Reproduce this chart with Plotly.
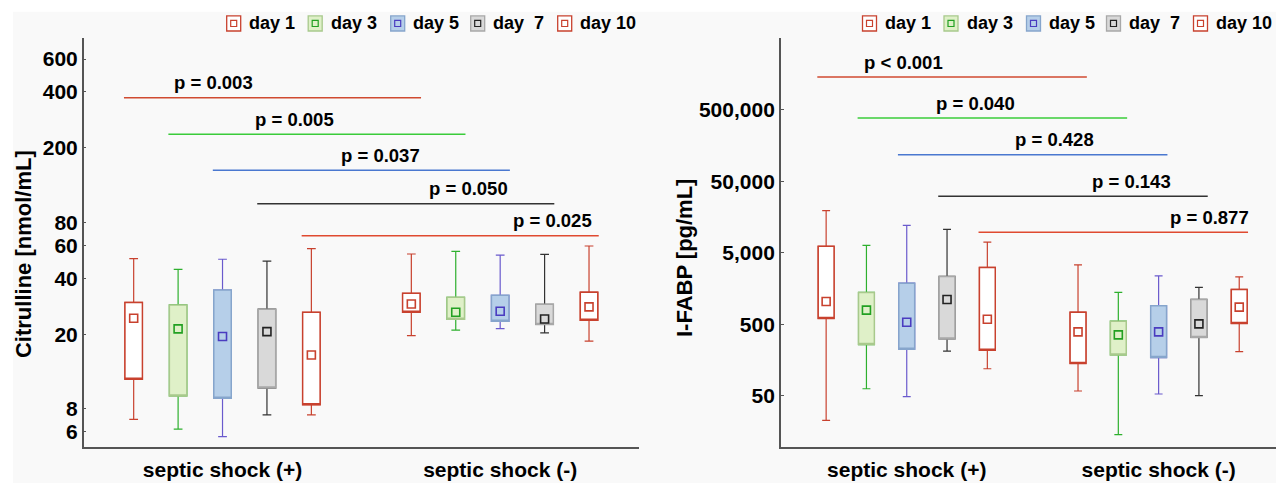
import math
import plotly.graph_objects as go

# ---------------- data ----------------
groups = ["septic shock (+)", "septic shock (-)"]
days = ["day 1", "day 3", "day 5", "day  7", "day 10"]

# Citrulline [nmol/mL]
cit_plus_upper = [51, 44.7, 50.6, 49.5, 57.7]
cit_plus_q3 = [29.7, 28.8, 34.6, 27.3, 26.3]
cit_plus_mean = [24.4, 21.4, 19.5, 20.7, 15.5]
cit_plus_q1 = [11.5, 9.35, 9.1, 10.3, 8.4]
cit_plus_lower = [7.0, 6.2, 5.66, 7.4, 7.4]

cit_minus_upper = [54, 55.8, 53.3, 53.8, 59.6]
cit_minus_q3 = [33.2, 31.6, 32.4, 29.0, 33.7]
cit_minus_mean = [29.1, 26.3, 26.6, 24.2, 28.1]
cit_minus_q1 = [26.3, 24.1, 23.5, 22.6, 23.8]
cit_minus_lower = [19.7, 21.1, 21.5, 20.4, 18.4]

cit_p_text = ["p = 0.003", "p = 0.005", "p = 0.037", "p = 0.050", "p = 0.025"]
cit_p_level = [372, 237, 152, 100.5, 67.7]
cit_ticks = [6, 8, 20, 40, 60, 80, 200, 400, 600]

# I-FABP [pg/mL]
fabp_plus_upper = [19450, 6370, 12130, 10670, 7080]
fabp_plus_q3 = [6170, 1400, 1888, 2344, 3133]
fabp_plus_mean = [1047, 791, 537, 1116, 591]
fabp_plus_q1 = [605, 261, 225, 313, 218]
fabp_plus_lower = [22.8, 63, 48.9, 211, 120]

fabp_minus_upper = [3400, 1400, 2390, 1644, 2312]
fabp_minus_q3 = [741, 555, 908, 1116, 1541]
fabp_minus_mean = [393, 357, 393, 508, 871]
fabp_minus_q1 = [142, 187, 172, 328, 515]
fabp_minus_lower = [58.6, 14.4, 53.2, 50.5, 208]

fabp_p_text = ["p < 0.001", "p = 0.040", "p = 0.428", "p = 0.143", "p = 0.877"]
fabp_p_level = [1435000, 383000, 118000, 30900, 9680]
fabp_ticks = [50, 500, 5000, 50000, 500000]
fabp_ticktext = ["50", "500", "5,000", "50,000", "500,000"]

# ---------------- style ----------------
W, H = 1276, 483
MT, MB = 38.3, 36.3
FONT = "Liberation Sans, Arial, Helvetica, sans-serif"
AXIS_COLOR = "#555555"

whisker_colors = ["#c8412e", "#2eb02e", "#6a5acd", "#333333", "#c8412e"]
outline_colors = ["#c8412e", "#a8c98c", "#86a5cc", "#a8a8a8", "#c8412e"]
fill_colors = ["#ffffff", "#dff0c8", "#b6cfe9", "#d9d9d9", "#ffffff"]
mean_colors = ["#c8412e", "#22a022", "#4a3cc0", "#222222", "#c8412e"]
p_colors = ["#d04a30", "#3acc3a", "#4a78d0", "#333333", "#e04a30"]

DAY_STEP = 0.16
BOX_W = 0.063


def px_x(px):
    return px / W


def px_y(py):
    return (H - MB - py) / (H - MT - MB)


def day_offset(i):
    return (i - (len(days) - 1) / 2) * DAY_STEP


fig = go.Figure()


def add_panel(xa, ya, plus, minus, p_text, p_level, p_label_x):
    (pu, p3, pm, p1, pl) = plus
    (mu, m3, mm, m1, ml) = minus
    for i, d in enumerate(days):
        xs = [0 + day_offset(i), 1 + day_offset(i)]
        q1 = [p1[i], m1[i]]
        q3 = [p3[i], m3[i]]
        # whiskers
        fig.add_trace(go.Box(
            x=xs, q1=q1, median=q1, q3=q3,
            lowerfence=[pl[i], ml[i]], upperfence=[pu[i], mu[i]],
            width=BOX_W, whiskerwidth=0.5, boxpoints=False,
            line=dict(color=whisker_colors[i], width=1.2),
            fillcolor="rgba(0,0,0,0)", xaxis=xa, yaxis=ya,
            showlegend=False, name=d, hoverinfo="skip"))
        # box body
        fig.add_trace(go.Box(
            x=xs, q1=q1, median=q1, q3=q3,
            lowerfence=q1, upperfence=q3,
            width=BOX_W, whiskerwidth=0, boxpoints=False,
            line=dict(color=outline_colors[i], width=1.5),
            fillcolor=fill_colors[i], xaxis=xa, yaxis=ya,
            showlegend=False, name=d))
        # mean markers
        fig.add_trace(go.Scatter(
            x=xs, y=[pm[i], mm[i]], mode="markers",
            marker=dict(symbol="square-open", size=8,
                        color=mean_colors[i], line=dict(width=1.6)),
            xaxis=xa, yaxis=ya, showlegend=False, name=d))
    # p-value lines
    for i in range(len(days)):
        x0 = 0 + day_offset(i) - 0.035
        x1 = 1 + day_offset(i) + 0.035
        fig.add_trace(go.Scatter(
            x=[x0, x1], y=[p_level[i], p_level[i]], mode="lines",
            line=dict(color=p_colors[i], width=1.5),
            xaxis=xa, yaxis=ya, showlegend=False, hoverinfo="skip"))
        fig.add_annotation(
            x=p_label_x[i], y=math.log10(p_level[i]),
            xref=xa, yref=ya, text=p_text[i], showarrow=False,
            yanchor="middle", xanchor="center", yshift=15,
            font=dict(size=18.5, family=FONT, color="black", weight="bold"))


add_panel("x", "y",
          (cit_plus_upper, cit_plus_q3, cit_plus_mean, cit_plus_q1, cit_plus_lower),
          (cit_minus_upper, cit_minus_q3, cit_minus_mean, cit_minus_q1, cit_minus_lower),
          cit_p_text, cit_p_level, [-0.034, 0.261, 0.569, 0.885, 1.187])
add_panel("x2", "y2",
          (fabp_plus_upper, fabp_plus_q3, fabp_plus_mean, fabp_plus_q1, fabp_plus_lower),
          (fabp_minus_upper, fabp_minus_q3, fabp_minus_mean, fabp_minus_q1, fabp_minus_lower),
          fabp_p_text, fabp_p_level, [-0.013, 0.274, 0.586, 0.893, 1.203])

tickfont = dict(size=21, family=FONT, color="black", weight="bold")
xcommon = dict(tickvals=[0, 1], ticktext=groups, showline=True,
               linecolor=AXIS_COLOR, linewidth=1.5, ticks="", showgrid=False,
               zeroline=False, tickfont=tickfont, automargin=False,
               fixedrange=True, ticklabelstandoff=3)
ycommon = dict(type="log", showline=True, linecolor=AXIS_COLOR, linewidth=1.5,
               ticks="inside", ticklen=3, tickcolor=AXIS_COLOR, showgrid=False,
               zeroline=False, tickfont=tickfont, automargin=False,
               fixedrange=True)

fig.update_layout(
    width=W, height=H,
    margin=dict(l=0, r=0, t=MT, b=MB, pad=0),
    paper_bgcolor="white", plot_bgcolor="rgba(0,0,0,0)",
    font=dict(family=FONT, color="black"),
    boxmode="overlay",
    xaxis=dict(domain=[px_x(83.7), px_x(639)], range=[-0.5, 1.5], anchor="y", **xcommon),
    yaxis=dict(domain=[0, 1], range=[0.697, 2.891], anchor="x",
               tickvals=cit_ticks, ticktext=[str(t) for t in cit_ticks], **ycommon),
    xaxis2=dict(domain=[px_x(780.8), 1], range=[-0.5, 1.466], anchor="y2", **xcommon),
    yaxis2=dict(domain=[0, 1], range=[0.985, 6.703], anchor="x2",
                tickvals=fabp_ticks, ticktext=fabp_ticktext, **ycommon),
    showlegend=False,
)

# background panel
fig.add_shape(type="rect", xref="paper", yref="paper",
              x0=px_x(13), x1=1.0, y0=px_y(H), y1=px_y(12),
              fillcolor="#f9f9f9", line=dict(width=0), layer="below")

# axis titles
title_font = dict(size=22, family=FONT, color="black", weight="bold")
fig.add_annotation(text="Citrulline [nmol/mL]", xref="paper", yref="paper",
                   x=px_x(23), y=px_y(254), textangle=-90, showarrow=False,
                   xanchor="center", yanchor="middle", font=title_font)
fig.add_annotation(text="I-FABP [pg/mL]", xref="paper", yref="paper",
                   x=px_x(684), y=px_y(258), textangle=-90, showarrow=False,
                   xanchor="center", yanchor="middle", font=title_font)

# custom legends
legend_offsets = [0, 81.5, 164, 244, 331]
legend_font = dict(size=18, family=FONT, color="black", weight="bold")
for lx in (226.7, 862.5):
    for i, d in enumerate(days):
        x0 = lx + legend_offsets[i]
        fig.add_shape(type="rect", xref="paper", yref="paper",
                      x0=px_x(x0), x1=px_x(x0 + 14), y0=px_y(31.3), y1=px_y(16.3),
                      fillcolor=fill_colors[i], line=dict(color=outline_colors[i], width=1.3))
        fig.add_shape(type="rect", xref="paper", yref="paper",
                      x0=px_x(x0 + 4), x1=px_x(x0 + 10), y0=px_y(26.8), y1=px_y(20.8),
                      fillcolor="rgba(0,0,0,0)", line=dict(color=mean_colors[i], width=1.2))
        fig.add_annotation(text=d, xref="paper", yref="paper",
                           x=px_x(x0 + 20.6), y=px_y(23.8), showarrow=False,
                           xanchor="left", yanchor="middle", font=legend_font)

fig.write_html("out.html")
